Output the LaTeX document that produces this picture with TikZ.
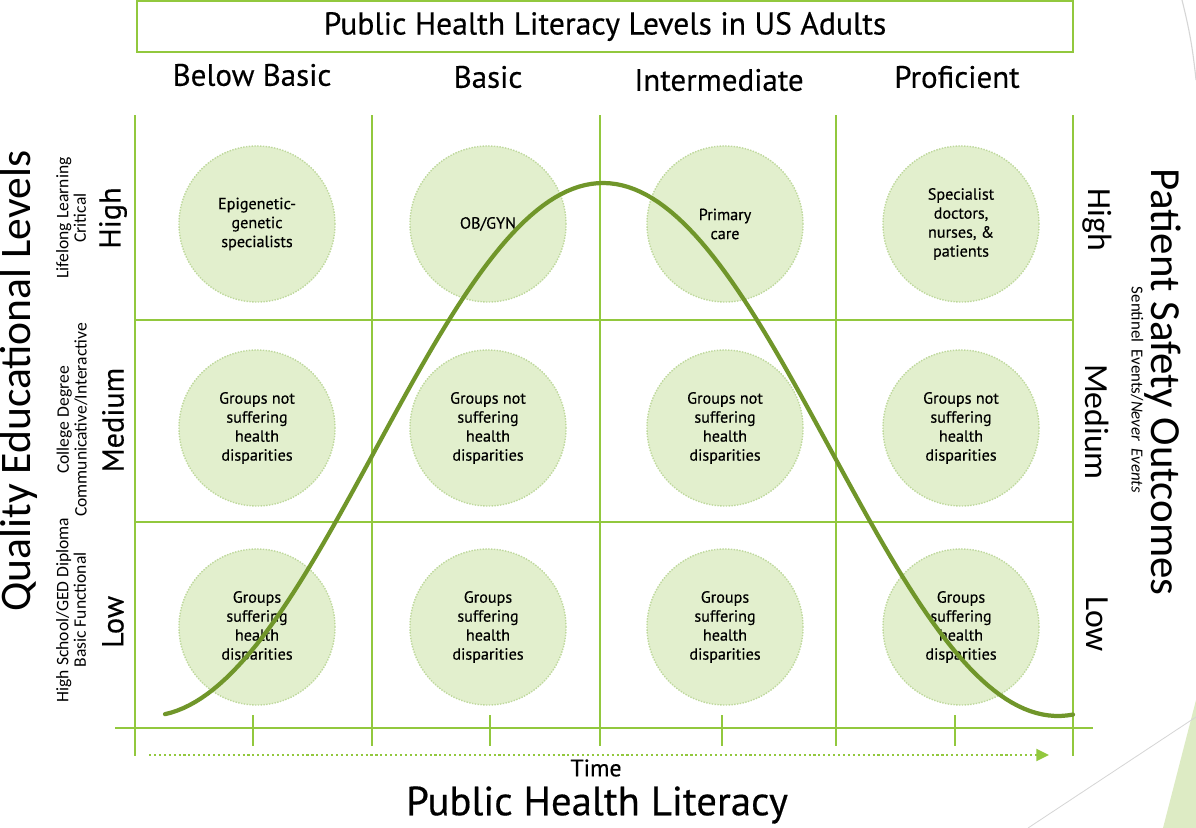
\documentclass[tikz,border=0pt]{standalone}
\usepackage{fontspec}
\setmainfont{PT Sans}[FakeBold=0.4]
\newfontfamily\sidefont{Carlito}
\usetikzlibrary{arrows.meta, positioning}

\definecolor{gridgreen}{RGB}{146,200,62}
\definecolor{curvegreen}{RGB}{112,150,42}
\definecolor{groupfill}{RGB}{226,239,205}
\definecolor{groupdots}{RGB}{190,216,156}
\definecolor{decogreen}{RGB}{221,235,196}
\definecolor{decogray}{RGB}{214,214,214}

\begin{document}
\begin{tikzpicture}[x=0.025cm, y=-0.025cm,
    grid/.style={gridgreen, line width=2pt},
    head/.style={font=\fontsize{22}{26}\selectfont},
    level/.style={font=\fontsize{21.5}{24}\selectfont},
    note/.style={align=center, font=\sidefont\fontsize{12.5}{12.5}\selectfont},
    group/.style={circle, minimum size=3.9cm, inner sep=0pt, fill=groupfill, draw=groupdots,
        line width=1pt, dash pattern=on 1pt off 1pt, align=center,
        font=\fontsize{11.5}{13.5}\selectfont}]
    \useasboundingbox (0,0) rectangle (1196,828);
    % slide corner strokes
    \fill[decogreen] (1163,828) -- (1196,700) -- (1196,828) -- cycle;
    \draw[decogray, line width=0.6pt] (1028,828) -- (1196,717);
    \draw[decogray, line width=0.8pt] (1182,0) to[bend left=4] (1196,80);
    % title and literacy levels
    \node[draw=gridgreen, line width=1.4pt, minimum width=23.4cm, minimum height=1.275cm,
        font=\fontsize{22.5}{26}\selectfont] (title) at (605,26.5) {Public Health Literacy Levels in US Adults};
    \foreach \x/\y/\t/\n in {252/75/Below Basic/bb, 488/77/Basic/ba, 719/80/Intermediate/in, 957/77/Proficient/pr}
        \node[head] (\n) at (\x,\y) {\t};
    % grid
    \foreach \x in {372,600,836} \draw[grid] (\x,115) -- (\x,746);
    \foreach \x in {135,1073} \draw[grid] (\x,115) -- (\x,756);
    \foreach \y in {320,522} \draw[grid] (135,\y) -- (1073,\y);
    \draw[grid] (115,728) -- (1093,728);
    \foreach \x in {253,490,722,955} \draw[grid] (\x,715) -- (\x,746);
    % groups
    \node[group] (g11) at (257,224) {Epigenetic-\\genetic\\specialists};
    \node[group] (g12) at (488,224) {OB/GYN};
    \node[group] (g13) at (725,224) {Primary\\care};
    \node[group] (g14) at (961,224) {Specialist\\doctors,\\nurses, \&\\patients};
    \foreach \x [count=\c] in {257,488,725,961} {
        \node[group] (g2\c) at (\x,428) {Groups not\\suffering\\health\\disparities};
        \node[group] (g3\c) at (\x,627) {Groups\\suffering\\health\\disparities};
    }
    % literacy curve
    \draw[curvegreen, line width=3pt, line cap=round] plot[domain=165:1073, samples=150]
        (\x, {716-266.5*(1+cos((\x-603)*0.3956))});
    % left axis
    \node[rotate=90, font=\sidefont\fontsize{31}{34}\selectfont] (qel) at (19,381) {Quality Educational Levels};
    \node[note, rotate=90] (n-hi) at (71,218) {Lifelong Learning\\Critical};
    \node[note, rotate=90] (n-me) at (72,420) {College Degree\\Communicative/Interactive};
    \node[note, rotate=90] (n-lo) at (71,610) {High School/GED Diploma\\Basic Functional};
    \foreach \y/\t/\n in {218/High/hi, 420/Medium/me, 622/Low/lo} {
        \node[level, rotate=90] (l-\n) at (113,\y) {\t};
        \node[level, rotate=-90, font=\sidefont\fontsize{24}{26}\selectfont] (r-\n) at (1097,\y+2) {\t};
    }
    % right axis
    \node[rotate=-90, font=\sidefont\fontsize{30.5}{34}\selectfont] (pso) at (1163,382) {Patient Safety Outcomes};
    \node[rotate=-90, font=\sidefont\fontsize{12}{14}\selectfont] (sen) at (1137,390) {Sentinel~ Events/\textit{Never~ Events}};
    % time axis
    \coordinate (t0) at (149,755);
    \coordinate (t1) at (1049,755);
    \draw[gridgreen, line width=1.5pt, dash pattern=on 1.5pt off 2pt, -{Triangle[length=9pt, width=8.5pt]}] (t0) -- (t1);
    \node[font=\fontsize{17}{19}\selectfont] (time) at (596,768) {Time};
    \node[font=\fontsize{29}{32}\selectfont] (phl) at (597,805) {Public Health Literacy};
\end{tikzpicture}
\end{document}
